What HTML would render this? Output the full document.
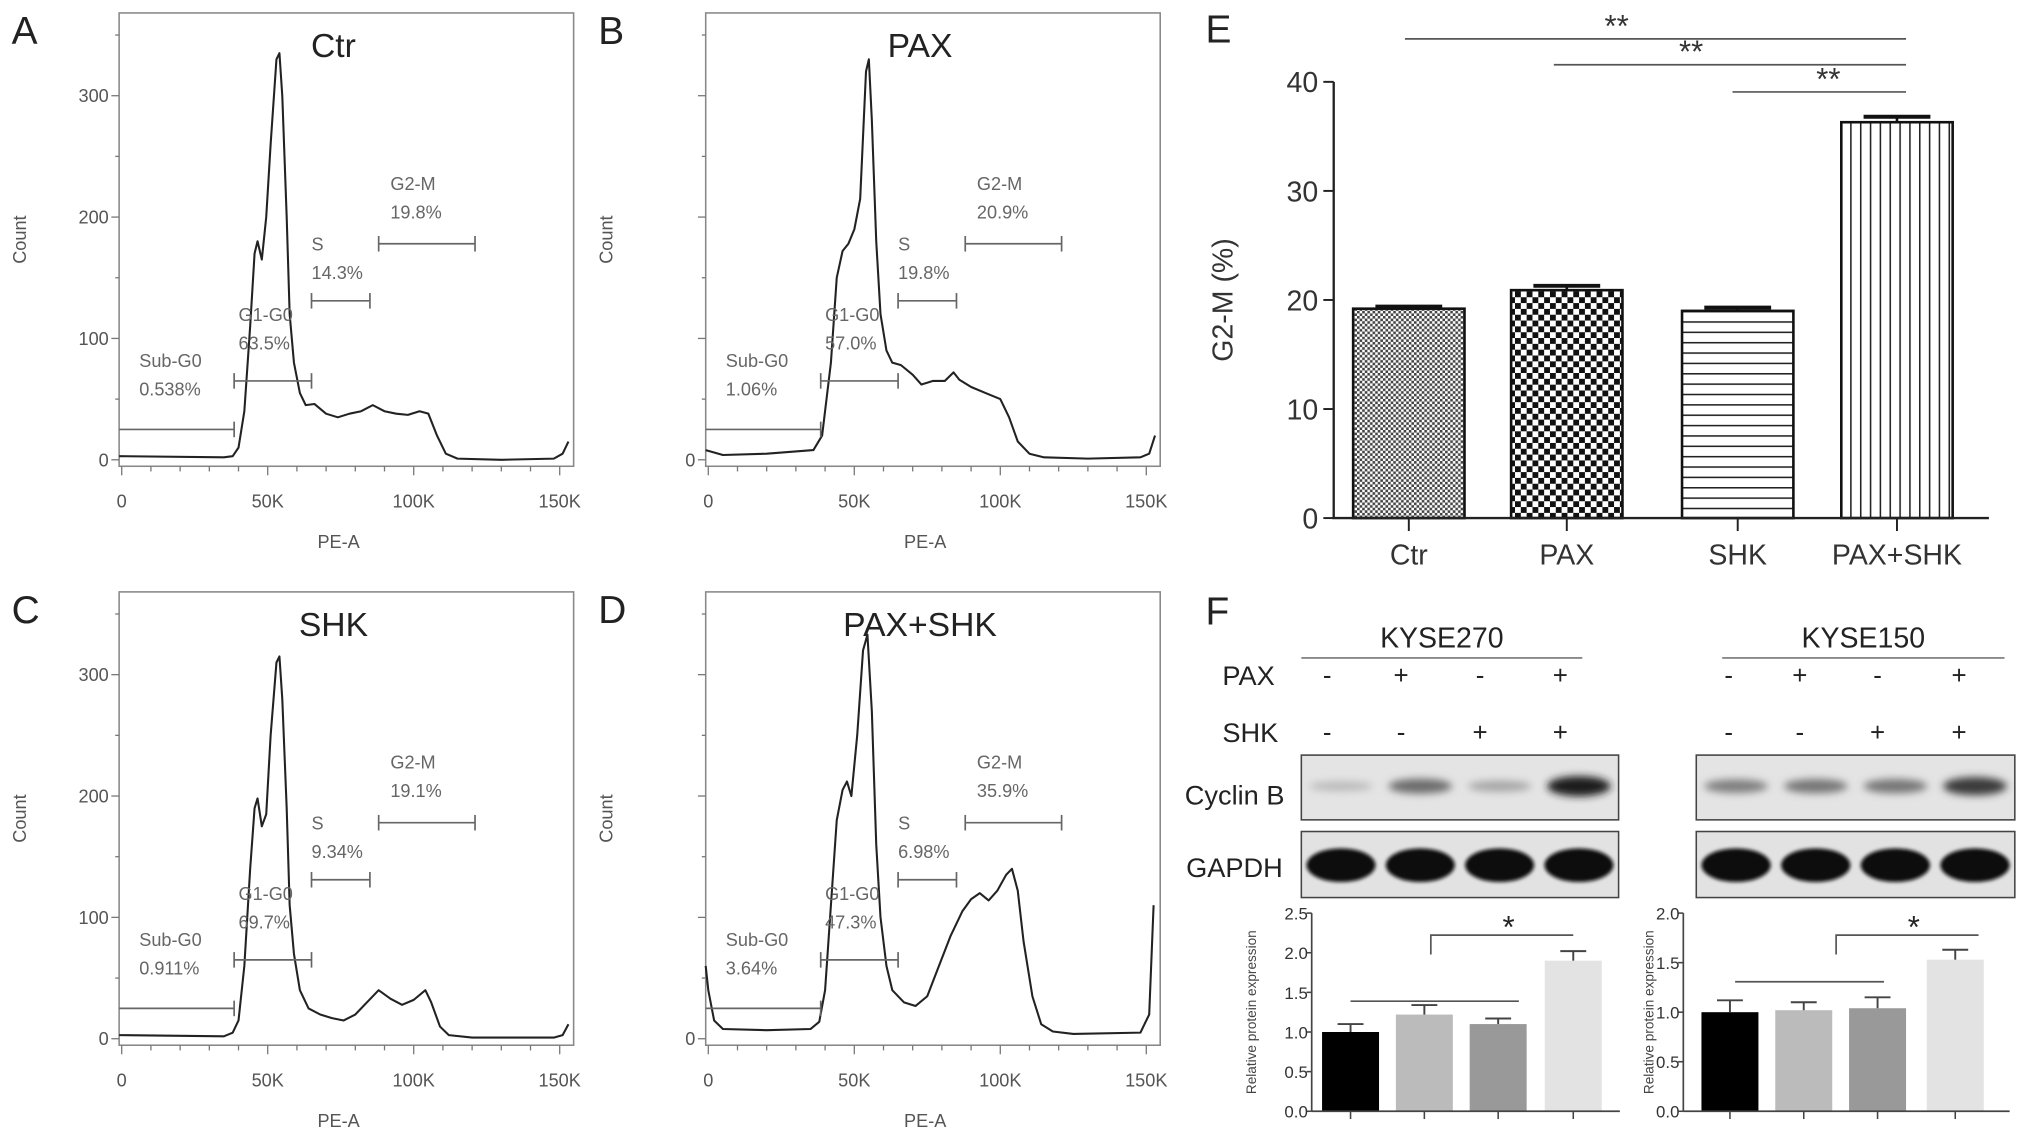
<!DOCTYPE html>
<html><head><meta charset="utf-8">
<style>
html,body{margin:0;padding:0;background:#fff;}
svg{display:block;font-family:"Liberation Sans",sans-serif;}
</style></head>
<body>
<svg id="fig" width="2031" height="1143" viewBox="0 0 1568.5 882.5" preserveAspectRatio="none" xmlns="http://www.w3.org/2000/svg">
<defs>
<pattern id="pCtr" width="4" height="4" patternUnits="userSpaceOnUse"><rect width="4" height="4" fill="#fff"/><rect width="2" height="2" fill="#444"/><rect x="2" y="2" width="2" height="2" fill="#444"/></pattern>
<pattern id="pPax" width="9" height="9" patternUnits="userSpaceOnUse"><rect width="9" height="9" fill="#fff"/><rect width="4.5" height="4.5" fill="#111"/><rect x="4.5" y="4.5" width="4.5" height="4.5" fill="#111"/></pattern>
<pattern id="pShk" width="10" height="8" patternUnits="userSpaceOnUse"><rect width="10" height="8" fill="#fff"/><rect y="0" width="10" height="1.2" fill="#222"/></pattern>
<pattern id="pBoth" width="7.6" height="10" patternUnits="userSpaceOnUse"><rect width="7.6" height="10" fill="#fff"/><rect x="0" width="1.2" height="10" fill="#222"/></pattern>
<filter id="blur" x="-30%" y="-80%" width="160%" height="260%"><feGaussianBlur stdDeviation="3"/></filter>
<filter id="blur2" x="-30%" y="-80%" width="160%" height="260%"><feGaussianBlur stdDeviation="1.5"/></filter>
</defs>
<g id="root"></g>
</svg>
<script>
// ---------- data ----------
const histA = [[-2,3],[35,2],[38,3],[40,10],[42,40],[44,110],[45.5,170],[46.5,180],[48,165],[49.5,200],[51,260],[53,330],[54,335],[55,300],[56.5,200],[57.5,120],[59,80],[61,55],[63,45],[66,46],[70,38],[74,35],[78,38],[82,40],[86,45],[90,40],[94,38],[98,37],[102,40],[105,38],[108,20],[111,5],[115,1],[130,0],[148,1],[151,5],[153,15]];
const histB = [[-2,8],[5,4],[20,5],[36,8],[39,20],[42,80],[44,150],[46,172],[48,178],[50,190],[52,215],[54,320],[55,330],[56,280],[57.5,180],[59,120],[61,90],[63,80],[66,78],[70,70],[73,62],[77,65],[81,65],[84,72],[86,66],[90,60],[95,55],[100,50],[103,35],[106,15],[110,5],[115,2],[130,1],[148,2],[151,5],[153,20]];
const histC = [[-2,3],[35,2],[38,5],[40,15],[42,60],[44,140],[45.5,190],[46.5,198],[48,175],[49.5,185],[51,250],[53,310],[54,315],[55,280],[56.5,190],[57.5,110],[59,70],[61,40],[64,25],[68,20],[72,17],[76,15],[80,20],[84,30],[88,40],[92,33],[96,28],[100,32],[104,40],[106,30],[109,10],[112,3],[120,1],[148,1],[151,3],[153,12]];
const histD = [[-2,60],[0,40],[2,15],[5,8],[20,7],[35,8],[38,14],[40,40],[42,110],[44,180],[46,205],[47.5,212],[49,200],[51,250],[53,320],[54.5,333],[56,270],[57.5,160],[59,100],[61,60],[63,40],[67,30],[71,27],[75,35],[79,60],[83,85],[87,105],[90,115],[93,120],[96,114],[99,122],[102,135],[104,140],[106,122],[108,80],[111,35],[114,12],[118,6],[125,4],[148,5],[151,20],[152.5,110]];
const histTitles = ["Ctr","PAX","SHK","PAX+SHK"];
const gateNames = ["Sub-G0","G1-G0","S","G2-M"];
const gateA = ["0.538%","63.5%","14.3%","19.8%"];
const gateB = ["1.06%","57.0%","19.8%","20.9%"];
const gateC = ["0.911%","69.7%","9.34%","19.1%"];
const gateD = ["3.64%","47.3%","6.98%","35.9%"];
const xTickLabels = ["0","50K","100K","150K"];
const xTickValues = [0,50,100,150];
const yTickValues = [0,100,200,300];

const eCategories = ["Ctr","PAX","SHK","PAX+SHK"];
const eValues = [19.2,20.9,19.0,36.3];
const eErrors = [0.2,0.4,0.3,0.5];
const eTicks = [0,10,20,30,40];

const fLeftValues = [1.0,1.22,1.1,1.9];
const fLeftErrors = [0.1,0.12,0.07,0.12];
const fLeftTicks = ["0.0","0.5","1.0","1.5","2.0","2.5"];
const fRightValues = [1.0,1.02,1.04,1.53];
const fRightErrors = [0.12,0.08,0.11,0.1];
const fRightTicks = ["0.0","0.5","1.0","1.5","2.0"];
const paxSigns = ["-","+","-","+"];
const shkSigns = ["-","-","+","+"];
const cyclinLeft = [0.15,0.55,0.25,0.95];
const cyclinRight = [0.45,0.5,0.5,0.8];

// ---------- helpers ----------
const NS="http://www.w3.org/2000/svg";
const root=document.getElementById('root');
function mk(tag,attrs,parent,text){const e=document.createElementNS(NS,tag);for(const k in attrs)e.setAttribute(k,attrs[k]);if(text!==undefined)e.textContent=text;(parent||root).appendChild(e);return e;}

// ---------- histogram panels ----------
function histPanel(letter,title,pts,gates,left,top,showAllY){
  const g=mk('g',{});
  
  
  const W=351,H=350, x0=left+2, kx=2.255;
  const base=top+345, ky=0.937;
  const X=v=>x0+v*kx, Y=c=>base-c*ky;
  const f=mk('rect',{x:left,y:top,width:W,height:H,fill:'none',stroke:'#888','stroke-width':1.2},g);
  
  for(let v=0;v<=150;v+=10){mk('line',{x1:X(v),x2:X(v),y1:top+H,y2:top+H+(v%50===0?7:4),stroke:'#777','stroke-width':1},g);}
  for(let c=0;c<=350;c+=50){mk('line',{x1:left,x2:left-(c%100===0?6:3),y1:Y(c),y2:Y(c),stroke:'#777','stroke-width':1},g);}
  xTickValues.forEach((v,i)=>{const t=mk('text',{x:X(v),y:top+H+32,'font-size':14,fill:'#555','text-anchor':'middle'},g,xTickLabels[i]);
    });
  yTickValues.forEach(v=>{ if(!showAllY && v>0) return;
    const t=mk('text',{x:left-8,y:Y(v)+5,'font-size':14,fill:'#555','text-anchor':'end'},g,String(v));
    });
  const xl=mk('text',{x:left+W/2-6,y:top+H+63,'font-size':14,fill:'#555','text-anchor':'middle'},g,'PE-A');
  
  const yl=mk('text',{x:0,y:0,'font-size':14,fill:'#555','text-anchor':'middle',transform:`translate(${left-72},${top+175}) rotate(-90)`},g,'Count');
  
  const L=mk('text',{x:left-83,y:top+24,'font-size':30,fill:'#222'},g,letter);
  
  const T=mk('text',{x:left+W/2-10,y:top+34,'font-size':26,fill:'#222','text-anchor':'middle'},g,title);
  
  let d='';pts.forEach((p,i)=>{const xx=Math.min(Math.max(X(p[0]),left),left+W);d+=(i?'L':'M')+xx.toFixed(1)+','+Y(p[1]).toFixed(1);});
  const cv=mk('path',{d:d,fill:'none',stroke:'#222','stroke-width':1.6,'stroke-linejoin':'round'},g);
  
  const gd=[[-1,38.5],[38.5,65],[65,85],[88,121]];
  const gy=[25,65,131,178];
  const gl=[[6,53],[40,91],[65,149],[92,199]];
  gd.forEach((s,i)=>{const yy=base-gy[i]*ky;
    const ln=mk('line',{x1:Math.max(X(s[0]),left),x2:X(s[1]),y1:yy,y2:yy,stroke:'#666','stroke-width':1.3},g);
    
    mk('line',{x1:X(s[1]),x2:X(s[1]),y1:yy-6,y2:yy+6,stroke:'#666','stroke-width':1.3},g);
    if(i>0) mk('line',{x1:X(s[0]),x2:X(s[0]),y1:yy-6,y2:yy+6,stroke:'#666','stroke-width':1.3},g);
    const tx=X(gl[i][0]), ty=base-gl[i][1]*ky;
    const t1=mk('text',{x:tx,y:ty-22,'font-size':14,fill:'#666'},g,gateNames[i]);
    
    const t2=mk('text',{x:tx,y:ty,'font-size':14,fill:'#666'},g,gates[i]);
    
  });
}
histPanel('A',histTitles[0],histA,gateA,92,10,true);
histPanel('B',histTitles[1],histB,gateB,545,10,false);
histPanel('C',histTitles[2],histC,gateC,92,457,true);
histPanel('D',histTitles[3],histD,gateD,545,457,false);

// ---------- panel E ----------
(function(){
  const g=mk('g',{});
  
  const ax=1030, y0=400, k=8.42; const Y=v=>y0-v*k;
  const centers=[1088,1210,1342,1465], bw=86;
  const fills=['url(#pCtr)','url(#pPax)','url(#pShk)','url(#pBoth)'];
  eValues.forEach((v,i)=>{
    const r=mk('rect',{x:centers[i]-bw/2,y:Y(v),width:bw,height:y0-Y(v),fill:fills[i],stroke:'#111','stroke-width':2},g);
    
    const e=eErrors[i];
    mk('line',{x1:centers[i],x2:centers[i],y1:Y(v),y2:Y(v+e),stroke:'#111','stroke-width':2},g);
    const cap=mk('line',{x1:centers[i]-bw*0.3,x2:centers[i]+bw*0.3,y1:Y(v+e),y2:Y(v+e),stroke:'#111','stroke-width':3},g);
    
    mk('line',{x1:centers[i],x2:centers[i],y1:y0,y2:y0+10,stroke:'#222','stroke-width':1.5},g);
    const t=mk('text',{x:centers[i],y:y0+36,'font-size':22,fill:'#333','text-anchor':'middle'},g,eCategories[i]);
    
  });
  mk('line',{x1:ax,x2:ax,y1:Y(40),y2:y0,stroke:'#222','stroke-width':1.8},g);
  mk('line',{x1:ax-1,x2:1536,y1:y0,y2:y0,stroke:'#222','stroke-width':1.8},g);
  eTicks.forEach(v=>{mk('line',{x1:ax-8,x2:ax,y1:Y(v),y2:Y(v),stroke:'#222','stroke-width':1.5},g);
    const t=mk('text',{x:ax-12,y:Y(v)+8,'font-size':22,fill:'#333','text-anchor':'end'},g,String(v));
    });
  const yl=mk('text',{x:0,y:0,'font-size':22,fill:'#333','text-anchor':'middle',transform:`translate(952,${Y(20)}) rotate(-90)`},g,'G2-M (%)');
  
  const L=mk('text',{x:931,y:33,'font-size':30,fill:'#222'},g,'E');
  
  [[1085,30],[1200,50],[1338,71]].forEach(s=>{
    const l=mk('line',{x1:s[0],x2:1472,y1:s[1],y2:s[1],stroke:'#555','stroke-width':1.3},g);
    
    const t=mk('text',{x:(s[0]+1472)/2+(s[0]===1338?7:-30),y:s[1]-2,'font-size':24,fill:'#333','text-anchor':'middle'},g,'**');
    
  });
})();

// ---------- panel F ----------
(function(){
  const g=mk('g',{});
  
  const L=mk('text',{x:931,y:482,'font-size':30,fill:'#222'},g,'F');
  
  const lab=(x,y,s,txt,name)=>{const t=mk('text',{x:x,y:y,'font-size':s,fill:'#222'},g,txt);return t;};
  lab(944,529,21,'PAX','pax-row-label');
  lab(944,573,21,'SHK','shk-row-label');
  lab(915,621,21,'Cyclin B','cyclin-b-label');
  lab(916,677,21,'GAPDH','gapdh-label');
  const sides=[{name:'KYSE270',lineX:[1005,1222],cols:[1025,1082,1143,1205],box:[1005,1250],cyc:cyclinLeft},
               {name:'KYSE150',lineX:[1330,1548],cols:[1335,1390,1450,1513],box:[1310,1556],cyc:cyclinRight}];
  sides.forEach(s=>{
    const t=mk('text',{x:(s.lineX[0]+s.lineX[1])/2,y:500,'font-size':22,fill:'#222','text-anchor':'middle'},g,s.name);
    
    mk('line',{x1:s.lineX[0],x2:s.lineX[1],y1:508,y2:508,stroke:'#777','stroke-width':1.3},g);
    s.cols.forEach((c,i)=>{
      const a=mk('text',{x:c,y:528,'font-size':20,fill:'#222','text-anchor':'middle'},g,paxSigns[i]);
      
      const b=mk('text',{x:c,y:572,'font-size':20,fill:'#222','text-anchor':'middle'},g,shkSigns[i]);
      
    });
    const bw=s.box[1]-s.box[0];
    const cb=mk('rect',{x:s.box[0],y:583,width:bw,height:50,fill:'#e4e4e4',stroke:'#444','stroke-width':1.2},g);
    
    const gb=mk('rect',{x:s.box[0],y:642,width:bw,height:51,fill:'#e2e2e2',stroke:'#444','stroke-width':1.2},g);
    
    for(let i=0;i<4;i++){
      const cx=s.box[0]+bw*(i+0.5)/4;
      const shade=Math.round(215-s.cyc[i]*195);
      const e1=mk('ellipse',{cx:cx,cy:607,rx:bw/10,ry:3+s.cyc[i]*5,fill:`rgb(${shade},${shade},${shade})`,filter:'url(#blur)'},g);
      
      const e2=mk('ellipse',{cx:cx,cy:668,rx:bw/9.2,ry:13,fill:'#0a0a0a',filter:'url(#blur2)'},g);
      
    }
  });
  const colors=['#000','#bbb','#999','#e3e3e3'];
  function barChart(ax,right,centers,vals,errs,ticks,maxV,line1,bracket,ylx,name){
    const y0=858, top=705, k=(y0-top)/maxV, Y=v=>y0-v*k;
    const gg=mk('g',{},g);
    vals.forEach((v,i)=>{
      const r=mk('rect',{x:centers[i]-22,y:Y(v),width:44,height:y0-Y(v),fill:colors[i]},gg);
      
      mk('line',{x1:centers[i],x2:centers[i],y1:Y(v),y2:Y(v+errs[i]),stroke:'#444','stroke-width':1.5},gg);
      const c=mk('line',{x1:centers[i]-10,x2:centers[i]+10,y1:Y(v+errs[i]),y2:Y(v+errs[i]),stroke:'#444','stroke-width':1.5},gg);
      
      mk('line',{x1:centers[i],x2:centers[i],y1:y0,y2:y0+6,stroke:'#444','stroke-width':1.2},gg);
    });
    mk('line',{x1:ax,x2:ax,y1:top,y2:y0,stroke:'#444','stroke-width':1.3},gg);
    mk('line',{x1:ax,x2:right,y1:y0,y2:y0,stroke:'#444','stroke-width':1.3},gg);
    ticks.forEach(t=>{const v=parseFloat(t);mk('line',{x1:ax-4,x2:ax,y1:Y(v),y2:Y(v),stroke:'#444','stroke-width':1.2},gg);
      const tt=mk('text',{x:ax-3,y:Y(v)+5,'font-size':13,fill:'#333','text-anchor':'end'},gg,t);
      });
    const yl=mk('text',{x:0,y:0,'font-size':10.5,fill:'#444','text-anchor':'middle',transform:`translate(${ylx},${(y0+top)/2}) rotate(-90)`},gg,'Relative protein expression');
    
    const l1=mk('line',{x1:line1[0],x2:line1[1],y1:line1[2],y2:line1[2],stroke:'#555','stroke-width':1.3},gg);
    
    mk('path',{d:`M${bracket[0]},737 L${bracket[0]},722 L${bracket[1]},722`,fill:'none',stroke:'#555','stroke-width':1.3},gg);
    const st=mk('text',{x:(bracket[0]+bracket[1])/2+5,y:724,'font-size':24,fill:'#222','text-anchor':'middle'},gg,'*');
    
  }
  barChart(1013,1251,[1043,1100,1157,1215],fLeftValues,fLeftErrors,fLeftTicks,2.5,[1043,1173,773],[1105,1215],970,'kyse270-quant-chart');
  barChart(1300,1552,[1336,1393,1450,1510],fRightValues,fRightErrors,fRightTicks,2.0,[1340,1455,758],[1418,1528],1277,'kyse150-quant-chart');
})();
</script>
</body></html>
